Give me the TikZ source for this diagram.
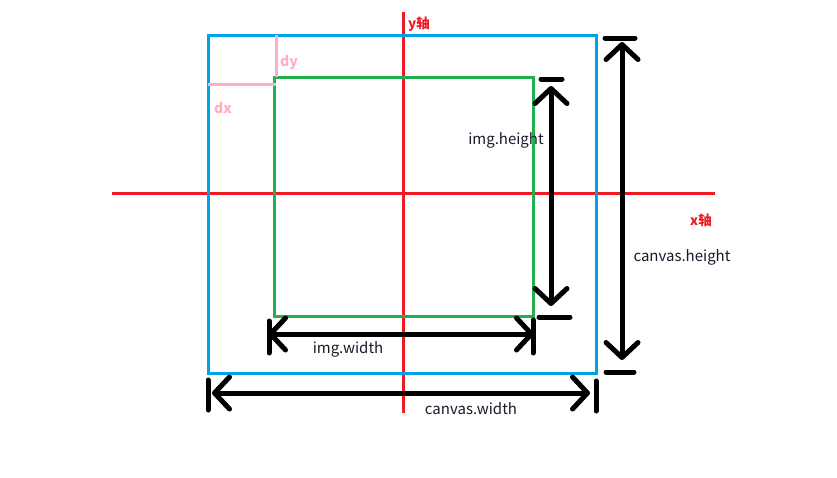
\documentclass[tikz,border=0pt]{standalone}
\usepackage{fontspec}
\setmainfont{Noto Sans CJK SC}
\usetikzlibrary{arrows.meta}
\definecolor{cblue}{HTML}{00A2E8}
\definecolor{cgreen}{HTML}{22B14C}
\definecolor{cred}{HTML}{ED1C24}
\definecolor{cpink}{HTML}{FFAEC9}
\definecolor{ctext}{HTML}{1A1A2A}
\tikzset{
  axis/.style={cred, line width=3pt},
  box/.style={line width=3pt},
  guide/.style={cpink, line width=3pt},
  dim/.style={black, line width=5pt, line cap=round,
    {Straight Barb[length=15pt,width=32pt,line width=5pt,round]}-{Straight Barb[length=15pt,width=32pt,line width=5pt,round]}},
  bar/.style={black, line width=5pt, line cap=round},
  lbl/.style={text=ctext, font=\fontsize{15}{17}\selectfont, inner sep=0pt},
  axlbl/.style={text=cred, font=\fontsize{13.5}{15}\selectfont\bfseries, inner sep=0pt},
  dlbl/.style={text=cpink, font=\fontsize{14}{15}\selectfont\bfseries, inner sep=0pt},
}
\begin{document}
\begin{tikzpicture}[x=1pt,y=-1pt]
\useasboundingbox (0,0) rectangle (837,477);
% axes
\coordinate (xl) at (112,193); \coordinate (xr) at (715,193);
\coordinate (yt) at (403,12); \coordinate (yb) at (403,413);
\draw[axis] (xl) -- (xr);
\draw[axis] (yt) -- (yb);
% canvas and image boxes
\draw[box, cblue] (208,35) rectangle (596,373);
\draw[box, cgreen] (274,77) rectangle (533,316);
% dx / dy guides
\coordinate (dyt) at (276,35); \coordinate (dyb) at (276,77);
\coordinate (dxl) at (208,84); \coordinate (dxr) at (276,84);
\draw[guide] (dyt) -- (dyb);
\draw[guide] (dxl) -- (dxr);
\node[dlbl] (dy) at (289,62) {dy};
\node[dlbl] (dx) at (223,108) {dx};
% axis labels
\node[axlbl] (ylab) at (419,24) {y轴};
\node[axlbl] (xlab) at (701,220) {x轴};
% img.height
\coordinate (ih1) at (551,86); \coordinate (ih2) at (551,306);
\draw[dim] (ih1) -- (ih2);
\coordinate (iht1) at (541,79); \coordinate (iht2) at (562,79);
\coordinate (ihb1) at (539,317); \coordinate (ihb2) at (570,317);
\draw[bar] (iht1) -- (iht2);
\draw[bar] (ihb1) -- (ihb2);
\node[lbl] (ihl) at (506,140) {img.height};
% canvas.height
\coordinate (ch1) at (622,42); \coordinate (ch2) at (622,360);
\draw[dim] (ch1) -- (ch2);
\coordinate (cht1) at (605,38); \coordinate (cht2) at (635,38);
\coordinate (chb1) at (606,372); \coordinate (chb2) at (634,372);
\draw[bar] (cht1) -- (cht2);
\draw[bar] (chb1) -- (chb2);
\node[lbl] (chl) at (682,257) {canvas.height};
% img.width
\coordinate (iw1) at (268,334); \coordinate (iw2) at (534,334);
\draw[dim] (iw1) -- (iw2);
\coordinate (iwl1) at (269,321); \coordinate (iwl2) at (269,353);
\coordinate (iwr1) at (533,320); \coordinate (iwr2) at (533,353);
\draw[bar] (iwl1) -- (iwl2);
\draw[bar] (iwr1) -- (iwr2);
\node[lbl] (iwlab) at (348,349) {img.width};
% canvas.width
\coordinate (cw1) at (212,393); \coordinate (cw2) at (590,393);
\draw[dim] (cw1) -- (cw2);
\coordinate (cwl1) at (208,380); \coordinate (cwl2) at (208,410);
\coordinate (cwr1) at (596,381); \coordinate (cwr2) at (596,411);
\draw[bar] (cwl1) -- (cwl2);
\draw[bar] (cwr1) -- (cwr2);
\node[lbl] (cwlab) at (471,409) {canvas.width};
\end{tikzpicture}
\end{document}
